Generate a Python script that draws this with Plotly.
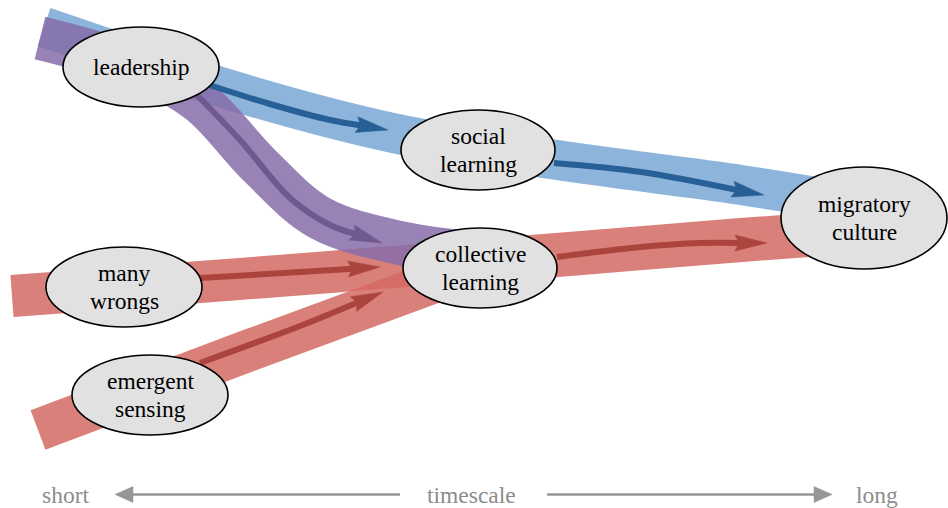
import numpy as np
import plotly.graph_objects as go

W, H = 948, 508

# ---- nodes ----
node_labels = ["leadership", "social<br>learning", "collective<br>learning",
               "many<br>wrongs", "emergent<br>sensing", "migratory<br>culture"]
node_x = [141, 478, 480, 124, 150, 864]
node_y = [67, 150, 268, 287, 395, 218]
node_rx = [78, 77, 77, 78, 78, 83]
node_ry = [40, 40, 40, 40, 40, 51]

# ---- bands (centre lines) ----
red_many_x = [12, 200, 330, 420, 480]
red_many_y = [296, 282, 272, 265, 262]
red_emerg_x = [38, 250, 478]
red_emerg_y = [430, 350, 266]
red_coll_x = [470, 557, 741, 850]
red_coll_y = [262, 255, 240, 232]
blue_x = [44, 141, 217, 393, 557, 741, 864]
blue_y = [27, 60, 86, 133, 160, 185, 205]
purple_x = [40, 140, 200, 260, 320, 400, 470]
purple_y = [38, 68, 102, 166, 218, 243, 253]

# ---- arrows (last point = tip) ----
arr_blue1_x = [200, 270, 330, 388]
arr_blue1_y = [82, 104, 120, 130]
arr_blue2_x = [554, 641, 764]
arr_blue2_y = [163, 172, 195]
arr_purple_x = [190, 240, 290, 330, 382]
arr_purple_y = [88, 140, 198, 225, 243]
arr_many_x = [200, 300, 380]
arr_many_y = [278, 272, 267]
arr_emerg_x = [200, 300, 383]
arr_emerg_y = [363, 326, 292]
arr_coll_x = [557, 641, 700, 767]
arr_coll_y = [257, 247, 243, 243]

# ---- timescale axis ----
axis_labels = ["short", "timescale", "long"]
axis_label_x = [65, 471, 877]
axis_label_y = 495
axis_y = 494.5
axis_left_x = [400, 115]
axis_right_x = [547, 832]

BLUE = "rgba(121,167,211,0.85)"
PURPLE = "rgba(134,108,169,0.85)"
RED = "rgba(211,106,99,0.85)"
DBLUE = "rgb(38,96,150)"
DPURPLE = "rgb(112,88,145)"
DRED = "rgb(172,68,62)"
GREY = "rgb(150,150,150)"
GREY_TXT = "rgb(140,140,140)"
SERIF = "'Liberation Serif', Tinos, 'DejaVu Serif', 'Noto Serif', serif"
FS = 23.5
LINE_GAP = 28

fig = go.Figure()


def band(xs, ys, color, width=40):
    fig.add_trace(go.Scatter(x=xs, y=ys, mode="lines",
                             line=dict(color=color, width=width, shape="spline", smoothing=1.0),
                             hoverinfo="skip"))


def arrow(xs, ys, color, shaft=6, L=32, hw=8, notch=4, spline=True):
    tip = np.array([xs[-1], ys[-1]], float)
    prev = np.array([xs[-2], ys[-2]], float)
    d = tip - prev
    d /= np.linalg.norm(d)
    n = np.array([-d[1], d[0]])
    base = tip - L * d
    sx = list(xs[:-1]) + [base[0] + (notch + 1) * d[0]]
    sy = list(ys[:-1]) + [base[1] + (notch + 1) * d[1]]
    fig.add_trace(go.Scatter(x=sx, y=sy, mode="lines",
                             line=dict(color=color, width=shaft,
                                       shape="spline" if spline else "linear", smoothing=1.0),
                             hoverinfo="skip"))
    p1 = base + hw * n
    p2 = base + notch * d
    p3 = base - hw * n
    hx = [tip[0], p1[0], p2[0], p3[0], tip[0]]
    hy = [tip[1], p1[1], p2[1], p3[1], tip[1]]
    fig.add_trace(go.Scatter(x=hx, y=hy, mode="lines", fill="toself",
                             fillcolor=color, line=dict(color=color, width=0.5),
                             hoverinfo="skip"))


# bands
band(red_many_x, red_many_y, RED, 42)
band(red_emerg_x, red_emerg_y, RED, 42)
band(red_coll_x, red_coll_y, RED, 44)
band(blue_x, blue_y, BLUE, 40)
band(purple_x, purple_y, PURPLE, 44)

# dark arrows
arrow(arr_many_x, arr_many_y, DRED)
arrow(arr_emerg_x, arr_emerg_y, DRED)
arrow(arr_coll_x, arr_coll_y, DRED)
arrow(arr_blue1_x, arr_blue1_y, DBLUE)
arrow(arr_blue2_x, arr_blue2_y, DBLUE)
arrow(arr_purple_x, arr_purple_y, DPURPLE)

# timescale arrows
arrow([axis_left_x[0], axis_left_x[1]], [axis_y, axis_y], GREY, shaft=2.5, L=18, hw=8, notch=0, spline=False)
arrow([axis_right_x[0], axis_right_x[1]], [axis_y, axis_y], GREY, shaft=2.5, L=18, hw=8, notch=0, spline=False)

# nodes
for lab, cx, cy, rx, ry in zip(node_labels, node_x, node_y, node_rx, node_ry):
    fig.add_shape(type="circle", xref="x", yref="y",
                  x0=cx - rx, x1=cx + rx, y0=cy - ry, y1=cy + ry,
                  fillcolor="rgb(225,225,225)", line=dict(color="black", width=1.6),
                  layer="above")
    lines = lab.split("<br>")
    k = len(lines)
    for i, t in enumerate(lines):
        ly = cy + (i - (k - 1) / 2) * LINE_GAP
        fig.add_annotation(x=cx, y=ly, text=t, showarrow=False,
                           font=dict(family=SERIF, size=FS, color="black"),
                           xanchor="center", yanchor="middle")

for lab, lx in zip(axis_labels, axis_label_x):
    fig.add_annotation(x=lx, y=axis_label_y, text=lab, showarrow=False,
                       font=dict(family=SERIF, size=FS, color=GREY_TXT),
                       xanchor="center", yanchor="middle")

fig.update_layout(width=W, height=H, margin=dict(l=0, r=0, t=0, b=0),
                  paper_bgcolor="white", plot_bgcolor="white", showlegend=False,
                  font=dict(family=SERIF),
                  xaxis=dict(range=[0, W], visible=False, fixedrange=True),
                  yaxis=dict(range=[H, 0], visible=False, fixedrange=True))

fig.write_html("out.html", config={"displayModeBar": False},
               post_script="document.body.style.margin='0';document.body.style.overflow='hidden';")
